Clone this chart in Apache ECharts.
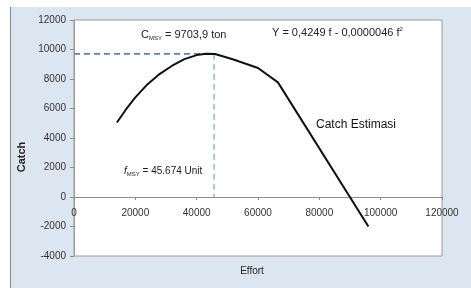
<!DOCTYPE html>
<html><head><meta charset="utf-8">
<script src="https://cdn.jsdelivr.net/npm/echarts@6/dist/echarts.min.js"></script>
<style>html,body{margin:0;padding:0;background:#fff}#c{width:471px;height:288px}</style>
</head><body><div id="c"></div>
<script>
const effort = [14000, 17000, 20000, 24000, 28000, 32000, 36000, 40000, 43000, 46000, 52000, 60000, 66500, 96000];
const catchEst = [5050, 5950, 6750, 7650, 8350, 8900, 9350, 9620, 9710, 9690, 9320, 8750, 7770, -2000];
const fMsy = 45674;
const cMsy = 9703.9;
const xTicks = [0, 20000, 40000, 60000, 80000, 100000, 120000];
const yTicks = [-4000, -2000, 0, 2000, 4000, 6000, 8000, 10000, 12000];

const chart = echarts.init(document.getElementById('c'), null, {renderer: 'canvas'});
const fam = 'Liberation Sans';
const font = 'Liberation Sans, Arial, sans-serif';
const mctx = document.createElement('canvas').getContext('2d');
function pieces(x, y, parts) {
  const out = [];
  let cx = x;
  parts.forEach(p => {
    const f = (p.i ? 'italic ' : '') + p.s + 'px ' + fam;
    mctx.font = f;
    out.push({type: 'text', z: 10, x: cx, y: y + (p.dy || 0),
      style: {text: p.t, font: f, fill: '#222', verticalAlign: 'middle', align: 'left'}});
    cx += mctx.measureText(p.t).width;
  });
  return out;
}
chart.setOption({
  animation: false,
  backgroundColor: '#ffffff',
  graphic: [
    {type: 'rect', z: -10, shape: {x: 10, y: 7, width: 461, height: 281}, style: {fill: '#dce6f1'}},
    {type: 'line', z: -9, shape: {x1: 10.5, y1: 7, x2: 10.5, y2: 288}, style: {stroke: '#7f8a96', lineWidth: 1}},
    ...pieces(141, 35, [{t: 'C', s: 11}, {t: 'MSY', s: 6, dy: 3}, {t: ' = 9703,9 ton', s: 11}]),
    ...pieces(272, 33, [{t: 'Y = 0,4249 f - 0,0000046 f', s: 11}, {t: '2', s: 6, dy: -4}]),
    ...pieces(124, 171, [{t: 'f', s: 10, i: true}, {t: 'MSY', s: 6, dy: 3}, {t: ' = 45.674 Unit', s: 10}]),
    {type: 'text', x: 316, y: 125, z: 10, style: {
      text: 'Catch Estimasi', font: '12px ' + font, fill: '#111', verticalAlign: 'middle'
    }},
    {type: 'text', x: 252, y: 271, z: 10, style: {
      text: 'Effort', font: '10px ' + font, fill: '#222', align: 'center', verticalAlign: 'middle'
    }},
    {type: 'text', x: 22, y: 157, rotation: Math.PI / 2, z: 10, style: {
      text: 'Catch', font: 'bold 11px ' + font, fill: '#222', align: 'center', verticalAlign: 'middle'
    }}
  ],
  grid: {left: 74, right: 29, top: 20, bottom: 32, containLabel: false, outerBoundsMode: 'none',
    show: true, backgroundColor: '#ffffff', borderColor: '#9a9a9a', borderWidth: 1},
  xAxis: {
    type: 'value', min: 0, max: 120000, interval: 20000,
    axisLine: {onZero: true, lineStyle: {color: '#8c8c8c'}},
    axisTick: {show: true, length: 3, lineStyle: {color: '#8c8c8c'}},
    axisLabel: {fontSize: 10, fontFamily: font, color: '#333', margin: -48,
      formatter: v => xTicks.includes(v) ? String(v) : ''},
    splitLine: {show: false}
  },
  yAxis: {
    type: 'value', min: -4000, max: 12000, interval: 2000,
    axisLine: {show: true, lineStyle: {color: '#9a9a9a'}},
    axisTick: {show: true, length: 4, lineStyle: {color: '#8c8c8c'}},
    axisLabel: {fontSize: 10, fontFamily: font, color: '#333', margin: 8,
      formatter: v => yTicks.includes(v) ? String(v) : ''},
    splitLine: {show: false}
  },
  series: [
    {type: 'line', data: [[0, cMsy], [fMsy, cMsy]], symbol: 'none', z: 3,
     lineStyle: {color: '#5582bf', width: 1.6, type: [6, 4]}},
    {type: 'line', data: [[fMsy, cMsy], [fMsy, 0]], symbol: 'none', z: 3,
     lineStyle: {color: '#8fb0d6', width: 1.4, type: [6, 4]}},
    {type: 'line', data: effort.map((e, i) => [e, catchEst[i]]), symbol: 'none', smooth: false, z: 5,
     lineStyle: {color: '#111', width: 2}}
  ]
});
</script></body></html>
